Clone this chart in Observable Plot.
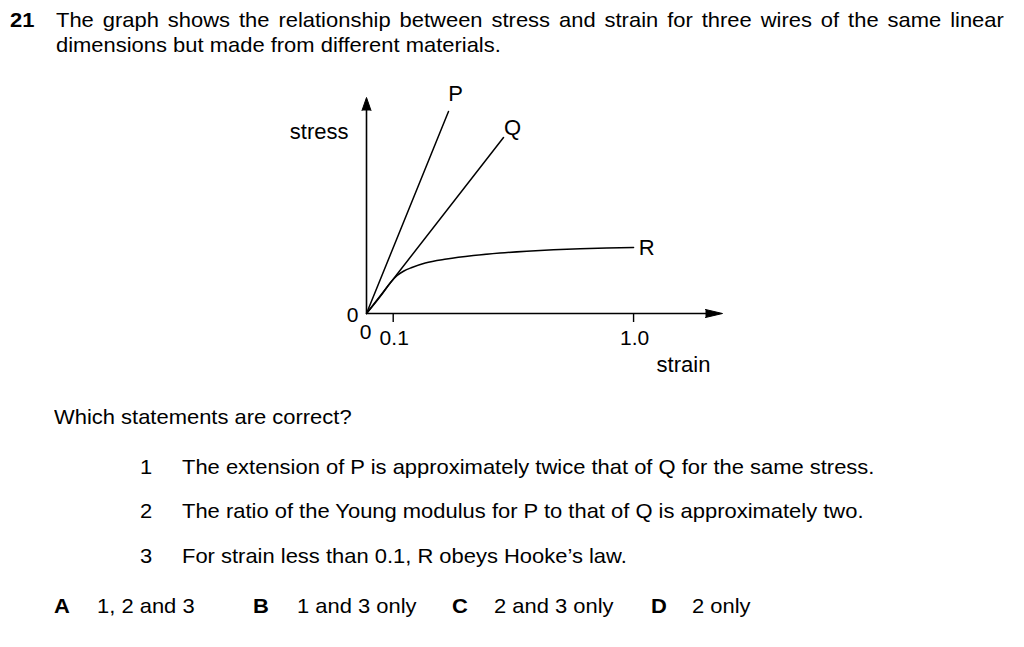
<!DOCTYPE html>
<html><head><meta charset="utf-8">
<script src="https://cdn.jsdelivr.net/npm/d3@7"></script>
<script src="https://cdn.jsdelivr.net/npm/@observablehq/plot@0.6"></script>
<style>
html,body{margin:0;padding:0;background:#fff;}
#page{position:relative;width:1024px;height:647px;overflow:hidden;font-family:"Liberation Sans",Arial,Helvetica,sans-serif;color:#000;background:#fff;}
.t{position:absolute;font-size:21px;line-height:21px;white-space:nowrap;transform:scaleX(1.045);transform-origin:0 0;}
.b{font-weight:bold;}
.just{white-space:normal;text-align:justify;text-align-last:justify;width:907px;}
#chart{position:absolute;left:0;top:80px;}
</style></head><body><div id="page">
<div class="t b" style="left:10px;top:9px;">21</div>
<div class="t just" style="left:56px;top:9px;">The graph shows the relationship between stress and strain for three wires of the same linear</div>
<div class="t" style="left:56px;top:34px;">dimensions but made from different materials.</div>
<div id="chart"></div>
<div class="t" style="left:54px;top:406px;">Which statements are correct?</div>
<div class="t" style="left:140px;top:456px;">1</div>
<div class="t" style="left:182px;top:456px;">The extension of P is approximately twice that of Q for the same stress.</div>
<div class="t" style="left:140px;top:500px;">2</div>
<div class="t" style="left:182px;top:500px;">The ratio of the Young modulus for P to that of Q is approximately two.</div>
<div class="t" style="left:140px;top:545px;">3</div>
<div class="t" style="left:182px;top:545px;">For strain less than 0.1, R obeys Hooke’s law.</div>
<div class="t b" style="left:54px;top:595px;">A</div>
<div class="t" style="left:97px;top:595px;">1, 2 and 3</div>
<div class="t b" style="left:253px;top:595px;">B</div>
<div class="t" style="left:297px;top:595px;">1 and 3 only</div>
<div class="t b" style="left:452px;top:595px;">C</div>
<div class="t" style="left:494px;top:595px;">2 and 3 only</div>
<div class="t b" style="left:651px;top:595px;">D</div>
<div class="t" style="left:692px;top:595px;">2 only</div>
</div>
<script>
// ---- data ----
const pStrain = [0, 0.307];
const pStress = [0, 202];
const qStrain = [0, 0.513];
const qStress = [0, 176];
const rStrain = [0, 0.06, 0.09, 0.115, 0.14, 0.17, 0.22, 0.3, 0.4, 0.5, 0.6, 0.7, 0.8, 0.9, 1.0];
const rStress = [0, 20, 31, 38, 42.5, 46, 50.5, 54.5, 58, 60.5, 62.3, 63.7, 64.8, 65.5, 66];
const tickStrains = [0.1, 1.0];
const tickLabels = ["0.1", "1.0"];
const originLabel = "0";
const xLabel = "strain";
const yLabel = "stress";
const strainMax = 1.333;
const stressMax = 216;

// ---- layout ----
const W = 1024, H = 300, ml = 366, mr = 302, mt = 17, mb = 67;
const kx = (W - ml - mr) / strainMax; // px per strain unit
const ky = (H - mt - mb) / stressMax; // px per stress unit

const rows = (xs, ys, name) => xs.map((x, i) => ({strain: x, stress: ys[i], name}));
const P = rows(pStrain, pStress, "P");
const Q = rows(qStrain, qStress, "Q");
const R = rows(rStrain, rStress, "R");

const upHead = [
  {strain: -4.5 / kx, stress: stressMax - 13 / ky},
  {strain: 0, stress: stressMax},
  {strain: 4.5 / kx, stress: stressMax - 13 / ky}
];
const rightHead = [
  {strain: strainMax - 17 / kx, stress: 4 / ky},
  {strain: strainMax, stress: 0},
  {strain: strainMax - 17 / kx, stress: -4 / ky}
];

const font = "Liberation Sans, Arial, Helvetica, sans-serif";
const chart = Plot.plot({
  width: W, height: H,
  marginLeft: ml, marginRight: mr, marginTop: mt, marginBottom: mb,
  x: {domain: [0, strainMax], axis: null},
  y: {domain: [0, stressMax], axis: null},
  style: {fontFamily: font, background: "white", color: "black", overflow: "visible"},
  marks: [
    Plot.ruleX([0], {y1: 0, y2: stressMax - 8 / ky, stroke: "black", strokeWidth: 1.6}),
    Plot.ruleY([0], {x1: 0, x2: strainMax - 10 / kx, stroke: "black", strokeWidth: 1.6}),
    Plot.line(upHead, {x: "strain", y: "stress", fill: "black", stroke: "black", strokeWidth: 1}),
    Plot.line(rightHead, {x: "strain", y: "stress", fill: "black", stroke: "black", strokeWidth: 1}),
    Plot.ruleX(tickStrains, {y1: 0, y2: -9 / ky, stroke: "black", strokeWidth: 1.4}),
    Plot.text(tickStrains, {x: d => d, y: 0, text: (d, i) => tickLabels[i], dx: 1, dy: 25, fontSize: 21, fill: "black"}),
    Plot.text([originLabel], {x: 0, y: 0, text: d => d, dx: -14, dy: 2, fontSize: 21, fill: "black"}),
    Plot.text([originLabel], {x: 0, y: 0, text: d => d, dx: -1, dy: 19, fontSize: 21, fill: "black"}),
    Plot.text([yLabel], {x: 0, y: 182, text: d => d, dx: -18, textAnchor: "end", fontSize: 22, fill: "black"}),
    Plot.text([xLabel], {x: strainMax, y: 0, text: d => d, dx: -39, dy: 51, fontSize: 22, fill: "black"}),
    Plot.line(P, {x: "strain", y: "stress", stroke: "black", strokeWidth: 1.5}),
    Plot.line(Q, {x: "strain", y: "stress", stroke: "black", strokeWidth: 1.5}),
    Plot.line(R, {x: "strain", y: "stress", stroke: "black", strokeWidth: 1.5, curve: "monotone-x"}),
    Plot.text([P[P.length - 1]], {x: "strain", y: "stress", text: "name", dx: 7, dy: -18, fontSize: 22, fill: "black"}),
    Plot.text([Q[Q.length - 1]], {x: "strain", y: "stress", text: "name", dx: 9, dy: -10, fontSize: 22, fill: "black"}),
    Plot.text([R[R.length - 1]], {x: "strain", y: "stress", text: "name", dx: 13, dy: 0, fontSize: 22, fill: "black"})
  ]
});
document.getElementById("chart").appendChild(chart);
</script>
</body></html>
